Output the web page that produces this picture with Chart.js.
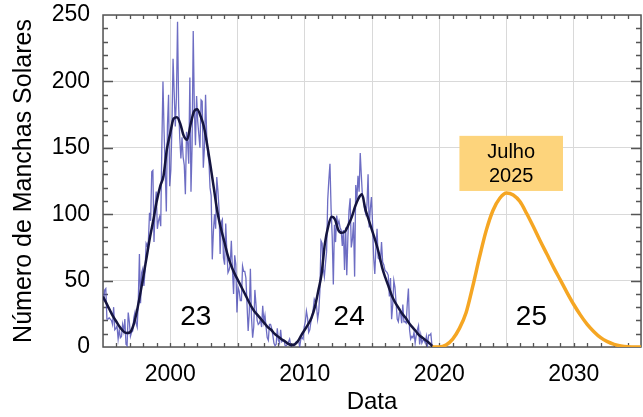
<!DOCTYPE html>
<html>
<head>
<meta charset="utf-8">
<script src="https://cdn.jsdelivr.net/npm/chart.js@4.4.0/dist/chart.umd.min.js"></script>
<style>
html,body{margin:0;padding:0;background:#fff;}
#wrap{width:643px;height:417px;position:relative;}
</style>
</head>
<body>
<div id="wrap"><canvas id="c" width="643" height="417"></canvas></div>
<script>
// ---------- DATA ----------
const monthlyStartYear = 1995; // monthly means, Jan 1995 onward
const monthly1995 = [35, 43, 44, 21, 21, 22, 21, 20, 17, 30, 13, 14];
const monthly1996 = [16, 6, 13, 7, 8, 17, 12, 21, 2, 1, 26, 19];
const monthly1997 = [8, 11, 12, 22, 26, 18, 15, 35, 70, 33, 56, 59];
const monthly1998 = [46, 58, 78, 76, 80, 101, 95, 132, 133, 79, 106, 117];
const monthly1999 = [89, 95, 98, 91, 152, 200, 162, 134, 102, 167, 190, 121];
const monthly2000 = [133, 166, 217, 192, 166, 188, 245, 181, 157, 142, 158, 143];
const monthly2001 = [137, 115, 162, 154, 138, 203, 117, 152, 238, 179, 152, 189];
const monthly2002 = [170, 160, 150, 186, 185, 135, 150, 190, 160, 145, 140, 120];
const monthly2003 = [114, 66, 87, 100, 89, 128, 118, 104, 70, 94, 96, 67];
const monthly2004 = [62, 93, 72, 56, 58, 62, 80, 58, 40, 69, 62, 26];
const monthly2005 = [45, 42, 35, 35, 61, 57, 57, 52, 32, 12, 26, 59];
const monthly2006 = [22, 7, 15, 43, 32, 20, 17, 18, 21, 15, 31, 19];
const monthly2007 = [24, 15, 7, 5, 17, 17, 14, 9, 3, 1, 2, 14];
const monthly2008 = [5, 3, 13, 4, 5, 5, 1, 1, 2, 4, 6, 1];
const monthly2009 = [2, 2, 1, 2, 4, 4, 5, 0, 6, 7, 6, 15];
const monthly2010 = [19, 27, 22, 11, 13, 19, 23, 28, 36, 34, 31, 21];
const monthly2011 = [27, 42, 80, 78, 59, 53, 63, 72, 111, 126, 138, 104];
const monthly2012 = [83, 47, 92, 79, 99, 92, 95, 90, 88, 76, 88, 58];
const monthly2013 = [90, 54, 83, 103, 112, 75, 81, 94, 53, 122, 111, 129];
const monthly2014 = [117, 146, 129, 113, 113, 103, 100, 107, 130, 90, 104, 113];
const monthly2015 = [93, 67, 55, 75, 89, 67, 66, 64, 79, 64, 62, 58];
const monthly2016 = [57, 56, 54, 38, 52, 21, 32, 50, 45, 33, 21, 19];
const monthly2017 = [26, 26, 18, 32, 19, 19, 18, 33, 44, 13, 6, 8];
const monthly2018 = [7, 11, 3, 9, 13, 16, 2, 9, 3, 5, 5, 3];
const monthly2019 = [8, 1, 9, 9, 10, 1];

// smoothed values, quarterly from 1995.0
const smoothedStartYear = 1995;
const smoothedValues = [
  38, 33, 28, 23,   19, 15, 12, 10.5,  11, 16, 26, 39,   53, 68, 83, 96,
  110, 121, 129, 149,  161, 172, 173, 168,  159, 156, 167, 177,  179, 174, 166, 152,
  136, 119, 102, 90,  80, 70, 62, 56,  51, 46, 41, 36,  31, 27, 24, 21,
  18, 15, 13, 10,  8, 6, 4.5, 2.5,  1.5, 2, 4.5, 9,  13, 17, 22, 30,
  42, 55, 78, 91,  98, 96, 88, 86,  87, 92, 98, 106,  112, 115, 104, 96,
  88, 80, 71, 60,  52, 45, 38, 33,  29, 25, 22, 18,  15, 12, 9, 7,
  5, 3, 0.5
];

// forecast for cycle 25
const forecastYears  = [2019.5, 2020, 2020.5, 2021, 2021.5, 2022, 2022.5, 2023, 2023.5, 2024, 2024.5, 2025, 2025.5, 2026, 2026.5, 2027, 2027.5, 2028, 2028.5, 2029, 2029.5, 2030, 2030.5, 2031, 2031.5, 2032, 2032.5, 2033, 2033.5, 2034, 2035];
const forecastValues = [0, 0, 1.5, 6, 14, 26, 46, 68, 88, 103, 112, 116, 114.5, 109.5, 100.5, 90.5, 80, 70, 60, 50.5, 41, 32, 24, 17, 11.5, 7, 4, 2, 0.8, 0.2, 0];

const xTickLabels = [2000, 2010, 2020, 2030];
const yTickLabels = [0, 50, 100, 150, 200, 250];
const cycleLabels = ['23', '24', '25'];
const cycleLabelYears = [2001.9, 2013.3, 2026.85];
const cycleLabelValue = 22.5;
const peakBoxLines = ['Julho', '2025'];
const peakBoxYears = [2021.5, 2029.2];
const peakBoxValues = [117.5, 159];

// ---------- BUILD ----------
const monthlyAll = [].concat(monthly1995, monthly1996, monthly1997, monthly1998, monthly1999,
  monthly2000, monthly2001, monthly2002, monthly2003, monthly2004, monthly2005, monthly2006,
  monthly2007, monthly2008, monthly2009, monthly2010, monthly2011, monthly2012, monthly2013,
  monthly2014, monthly2015, monthly2016, monthly2017, monthly2018, monthly2019);
const monthlyPoints = monthlyAll.map((v, i) => ({x: monthlyStartYear + (i + 0.5) / 12, y: v}));
const smoothedPoints = smoothedValues.map((v, i) => ({x: smoothedStartYear + i * 0.25, y: v}));
const forecastPoints = forecastYears.map((yr, i) => ({x: yr, y: forecastValues[i]}));

const FONT = '"Liberation Sans", Arial, Helvetica, sans-serif';

const framePlugin = {
  id: 'frame',
  beforeDatasetsDraw(chart) {
    const {ctx, chartArea: a, scales: {x, y}} = chart;
    ctx.save();
    ctx.strokeStyle = '#555';
    ctx.lineWidth = 1.3;
    ctx.beginPath();
    for (let yr = 1996; yr < 2035; yr++) {
      const px = Math.round(x.getPixelForValue(yr)) + 0.5;
      const len = 4;
      ctx.moveTo(px, a.top); ctx.lineTo(px, a.top + len);
      ctx.moveTo(px, a.bottom); ctx.lineTo(px, a.bottom - len);
    }
    for (let v = 10; v < 250; v += 10) {
      const py = Math.round(y.getPixelForValue(v)) + 0.5;
      const len = (v % 50 === 0) ? 10 : 5;
      ctx.moveTo(a.left, py); ctx.lineTo(a.left + len, py);
      ctx.moveTo(a.right, py); ctx.lineTo(a.right - len, py);
    }
    ctx.stroke();
    ctx.lineWidth = 1.5;
    ctx.strokeRect(a.left, a.top, a.right - a.left, a.bottom - a.top);
    ctx.restore();
  }
};

const annotationPlugin = {
  id: 'annot',
  afterDatasetsDraw(chart) {
    const {ctx, scales: {x, y}} = chart;
    ctx.save();
    ctx.fillStyle = '#000';
    ctx.textAlign = 'center';
    ctx.textBaseline = 'middle';
    ctx.font = '28px ' + FONT;
    cycleLabels.forEach((t, i) => {
      ctx.fillText(t, x.getPixelForValue(cycleLabelYears[i]), y.getPixelForValue(cycleLabelValue));
    });
    const x0 = x.getPixelForValue(peakBoxYears[0]), x1 = x.getPixelForValue(peakBoxYears[1]);
    const y0 = y.getPixelForValue(peakBoxValues[1]), y1 = y.getPixelForValue(peakBoxValues[0]);
    ctx.fillStyle = '#fdd47c';
    ctx.fillRect(x0, y0, x1 - x0, y1 - y0);
    ctx.fillStyle = '#000';
    ctx.font = '20px ' + FONT;
    const cx = (x0 + x1) / 2, h = y1 - y0;
    ctx.fillText(peakBoxLines[0], cx, y0 + h * 0.3);
    ctx.fillText(peakBoxLines[1], cx, y0 + h * 0.73);
    ctx.restore();
  }
};

new Chart(document.getElementById('c'), {
  type: 'line',
  data: {
    datasets: [
      {data: forecastPoints, borderColor: '#f5a623', borderWidth: 3.5, pointRadius: 0, cubicInterpolationMode: 'monotone', order: 1},
      {data: smoothedPoints, borderColor: '#15153f', borderWidth: 2.5, pointRadius: 0, cubicInterpolationMode: 'monotone', order: 2},
      {data: monthlyPoints, borderColor: 'rgba(72,72,180,0.8)', borderWidth: 1.3, pointRadius: 0, tension: 0, order: 3}
    ]
  },
  options: {
    responsive: false,
    animation: false,
    events: [],
    layout: {padding: {left: 0, right: 2, top: 15, bottom: 0}},
    plugins: {legend: {display: false}, tooltip: {enabled: false}},
    scales: {
      x: {
        type: 'linear', min: 1995, max: 2035,
        ticks: {stepSize: 5, autoSkip: false, maxRotation: 0, padding: 14, color: '#000',
          font: {family: FONT, size: 23},
          callback: (v) => xTickLabels.includes(v) ? String(v) : ''},
        grid: {color: '#d9d9d9', lineWidth: 1, drawTicks: false},
        border: {display: false},
        title: {display: true, text: 'Data', color: '#000', font: {family: FONT, size: 24}, padding: {top: 0, bottom: 0}},
        afterFit: (s) => { s.height = 70; s.paddingLeft = 0; s.paddingRight = 0; }
      },
      y: {
        min: 0, max: 250,
        ticks: {stepSize: 50, padding: 13, color: '#000', font: {family: FONT, size: 23},
          callback: (v) => yTickLabels.includes(v) ? String(v) : ''},
        grid: {color: '#d9d9d9', lineWidth: 1, drawTicks: false},
        border: {display: false},
        title: {display: true, text: 'Número de Manchas Solares', color: '#000', font: {family: FONT, size: 25}, padding: {top: 9, bottom: 0}},
        afterFit: (s) => { s.width = 103; s.paddingTop = 0; s.paddingBottom = 0; }
      }
    }
  },
  plugins: [framePlugin, annotationPlugin]
});
</script>
</body>
</html>
